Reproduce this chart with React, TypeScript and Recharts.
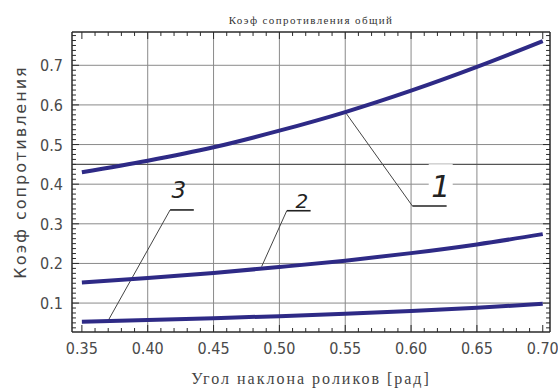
import { LineChart, Line, XAxis, YAxis, ReferenceLine, ReferenceDot } from "recharts";

// угол наклона роликов, рад
const ANGLES = [0.35, 0.4, 0.45, 0.5, 0.55, 0.6, 0.65, 0.7];
// коэффициенты сопротивления по кривым 1, 2, 3
const CURVE_1 = [0.43, 0.459, 0.493, 0.535, 0.582, 0.636, 0.696, 0.761];
const CURVE_2 = [0.152, 0.163, 0.176, 0.191, 0.207, 0.226, 0.248, 0.274];
const CURVE_3 = [0.053, 0.057, 0.062, 0.067, 0.073, 0.08, 0.088, 0.098];

const X_LABELS = [0.35, 0.4, 0.45, 0.5, 0.55, 0.6, 0.65, 0.7];
const Y_LABELS = [0.1, 0.2, 0.3, 0.4, 0.5, 0.6, 0.7];
const GRID_X = [0.4, 0.45, 0.5, 0.55, 0.6, 0.65];
const GRID_Y = [0.1, 0.2, 0.3, 0.4, 0.5, 0.6, 0.7];

const X_DOMAIN: [number, number] = [0.3425, 0.7055];
const Y_DOMAIN: [number, number] = [0.027, 0.784];

// minor ticks
const X_TICKS: number[] = [];
for (let i = 35; i <= 70; i++) X_TICKS.push(i / 100);
const Y_TICKS: number[] = [];
for (let i = 3; i <= 62; i++) Y_TICKS.push(i / 80);

// выноски: точка на кривой, полка (x1, x2, y), номер
const CALLOUTS = [
  { n: "1", curve: [0.55, 0.582], shelf: [0.601, 0.627, 0.345], text: [0.6225, 0.395], size: 30 },
  { n: "2", curve: [0.4865, 0.192], shelf: [0.5056, 0.5237, 0.333], text: [0.517, 0.357], size: 20 },
  { n: "3", curve: [0.37, 0.056], shelf: [0.417, 0.435, 0.335], text: [0.4237, 0.385], size: 23 },
];

const data = ANGLES.map((a, i) => ({ a, c1: CURVE_1[i], c2: CURVE_2[i], c3: CURVE_3[i] }));

const isMajor = (v: number, step: number) => Math.abs(v / step - Math.round(v / step)) < 1e-6;

// tick lengths in axis units (~7px major, ~4px minor)
const TX_MAJ = 0.0053;
const TX_MIN = 0.003;
const TY_MAJ = 0.0177;
const TY_MIN = 0.0101;

const FRAME = "#2a2a2a";
const tickFont = { fontFamily: "'Liberation Sans Narrow', 'DejaVu Sans Condensed', sans-serif", fontSize: 16, fill: "#4a4a4a" };

const BottomTick = ({ x, y, payload }: any) =>
  isMajor(payload.value, 0.05) ? (
    <text x={x} y={y + 22} textAnchor="middle" {...tickFont}>
      {payload.value.toFixed(2)}
    </text>
  ) : (
    <g />
  );

const LeftTick = ({ x, y, payload }: any) =>
  isMajor(payload.value, 0.1) ? (
    <text x={x - 9} y={y + 6} textAnchor="end" {...tickFont}>
      {payload.value.toFixed(1)}
    </text>
  ) : (
    <g />
  );

const TitleLabel = ({ viewBox }: any) => (
  <text
    x={viewBox.x + viewBox.width / 2}
    y={24}
    textAnchor="middle"
    fontFamily="'Liberation Serif', serif"
    fontSize={11}
    letterSpacing={1.4}
    fill="#333"
  >
    Коэф сопротивления общий
  </text>
);

const XLabel = ({ viewBox }: any) => (
  <text
    x={viewBox.x + viewBox.width / 2}
    y={384}
    textAnchor="middle"
    fontFamily="'Liberation Serif', serif"
    fontSize={16}
    letterSpacing={2}
    fill="#444"
  >
    Угол наклона роликов [рад]
  </text>
);

const YLabel = ({ viewBox }: any) => (
  <text
    transform={`translate(26, ${viewBox.y + viewBox.height / 2 - 10}) rotate(-90)`}
    textAnchor="middle"
    fontFamily="'DejaVu Sans', sans-serif"
    fontSize={16}
    letterSpacing={2}
    fill="#444"
  >
    Коэф сопротивления
  </text>
);

const makeNumberLabel = (n: string, size: number) => ({ viewBox }: any) => {
  const cx = viewBox.x + viewBox.width / 2;
  const cy = viewBox.y + viewBox.height / 2;
  return (
    <g>
      {n === "1" && <rect x={cx - 12} y={cy - 22} width={24} height={40} fill="#fff" />}
      <text
        x={cx}
        y={cy + size * 0.36}
        textAnchor="middle"
        fontFamily="'DejaVu Sans', sans-serif"
        fontStyle="italic"
        fontWeight={300}
        fontSize={size}
        fill="#222"
      >
        {n}
      </text>
    </g>
  );
};
const NUMBER_LABELS = CALLOUTS.map((c) => makeNumberLabel(c.n, c.size));

const seg = (x1: number, y1: number, x2: number, y2: number) => [
  { x: x1, y: y1 },
  { x: x2, y: y2 },
];

const [X0, X1] = X_DOMAIN;
const [Y0, Y1] = Y_DOMAIN;

export default function App() {
  return (
    <div style={{ position: "absolute", left: 0, top: 0, background: "#fff" }}>
      <LineChart width={558} height={390} data={data} margin={{ top: 0, right: 0, bottom: 0, left: 0 }}>
        <XAxis dataKey="a" type="number" domain={X_DOMAIN} ticks={X_TICKS} interval={0} tickSize={0} tickMargin={0}
          height={58} tick={<BottomTick />} tickLine={false} axisLine={false} label={<XLabel />} />
        <XAxis xAxisId="t" dataKey="a" type="number" orientation="top" domain={X_DOMAIN} ticks={X_LABELS} height={32}
          tick={false} tickLine={false} axisLine={false} label={<TitleLabel />} />
        <YAxis domain={Y_DOMAIN} ticks={Y_TICKS} interval={0} tickSize={0} tickMargin={0} width={72}
          tick={<LeftTick />} tickLine={false} axisLine={false} label={<YLabel />} />
        <YAxis yAxisId="r" orientation="right" domain={Y_DOMAIN} ticks={Y_LABELS} width={8}
          tick={false} tickLine={false} axisLine={false} />

        {GRID_X.map((v) => (
          <ReferenceLine key={"gx" + v} x={v} stroke="#8a8a8a" strokeWidth={1} />
        ))}
        {GRID_Y.map((v) => (
          <ReferenceLine key={"gy" + v} y={v} stroke="#8a8a8a" strokeWidth={1} />
        ))}
        <ReferenceLine y={0.45} stroke="#555" strokeWidth={1.4} />

        {/* minor / major ticks, pointing inward on all four sides */}
        {X_TICKS.map((v) => {
          const len = isMajor(v, 0.05) ? TX_MAJ : TX_MIN;
          const ly = (len / TX_MAJ) * TY_MAJ;
          return [
            <ReferenceLine key={"tb" + v} segment={seg(v, Y0, v, Y0 + ly)} stroke={FRAME} strokeWidth={1} ifOverflow="visible" />,
            <ReferenceLine key={"tt" + v} segment={seg(v, Y1, v, Y1 - ly)} stroke={FRAME} strokeWidth={1} ifOverflow="visible" />,
          ];
        })}
        {Y_TICKS.map((v) => {
          const len = isMajor(v, 0.1) ? TX_MAJ : TX_MIN;
          return [
            <ReferenceLine key={"tl" + v} segment={seg(X0, v, X0 + len, v)} stroke={FRAME} strokeWidth={1} ifOverflow="visible" />,
            <ReferenceLine key={"tr" + v} segment={seg(X1, v, X1 - len, v)} stroke={FRAME} strokeWidth={1} ifOverflow="visible" />,
          ];
        })}

        {/* frame */}
        <ReferenceLine segment={seg(X0, Y0, X1, Y0)} stroke={FRAME} strokeWidth={1.5} ifOverflow="visible" />
        <ReferenceLine segment={seg(X0, Y1, X1, Y1)} stroke={FRAME} strokeWidth={1.5} ifOverflow="visible" />
        <ReferenceLine segment={seg(X0, Y0, X0, Y1)} stroke={FRAME} strokeWidth={1.5} ifOverflow="visible" />
        <ReferenceLine segment={seg(X1, Y0, X1, Y1)} stroke={FRAME} strokeWidth={1.5} ifOverflow="visible" />

        {CALLOUTS.map((c) => (
          <ReferenceLine
            key={"lead" + c.n}
            segment={seg(c.curve[0], c.curve[1], c.shelf[0], c.shelf[2])}
            stroke="#444"
            strokeWidth={1}
          />
        ))}
        {CALLOUTS.map((c) => (
          <ReferenceLine
            key={"shelf" + c.n}
            segment={seg(c.shelf[0], c.shelf[2], c.shelf[1], c.shelf[2])}
            stroke="#222"
            strokeWidth={1.6}
          />
        ))}
        {CALLOUTS.map((c, i) => (
          <ReferenceDot
            key={"num" + c.n}
            x={c.text[0]}
            y={c.text[1]}
            r={0}
            fill="none"
            stroke="none"
            label={NUMBER_LABELS[i]}
          />
        ))}

        <Line dataKey="c1" type="monotone" stroke="#2e2a86" strokeWidth={4} dot={false} isAnimationActive={false} />
        <Line dataKey="c2" type="monotone" stroke="#2e2a86" strokeWidth={4} dot={false} isAnimationActive={false} />
        <Line dataKey="c3" type="monotone" stroke="#2e2a86" strokeWidth={4} dot={false} isAnimationActive={false} />
      </LineChart>
    </div>
  );
}
